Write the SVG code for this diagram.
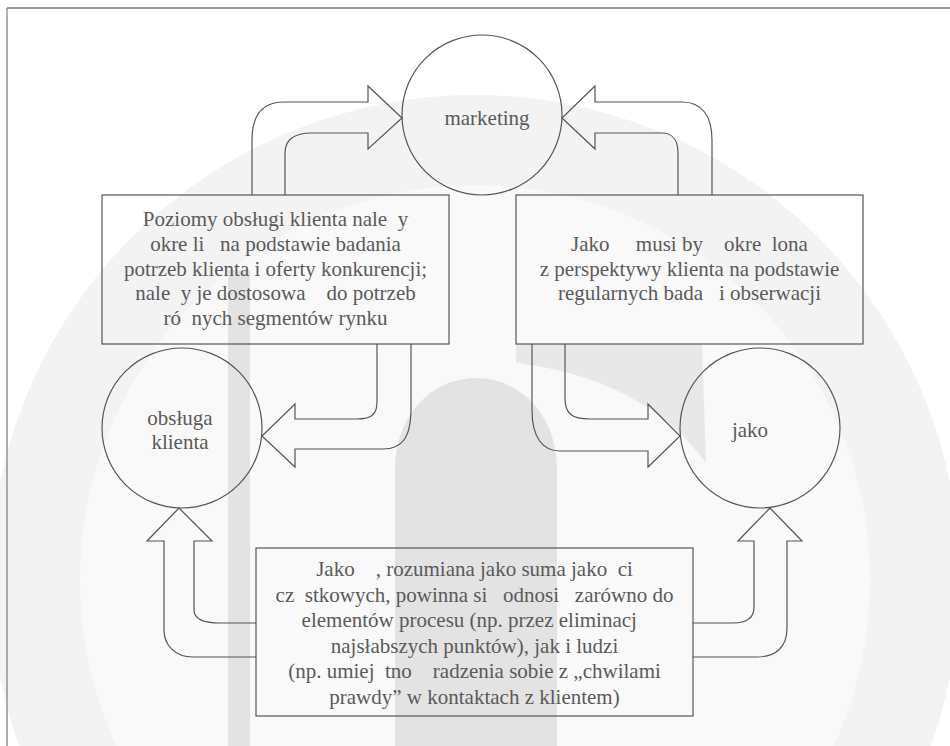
<svg xmlns="http://www.w3.org/2000/svg" width="950" height="746" viewBox="0 0 950 746">
  <style>
    .shape { fill: none; stroke: #555555; stroke-width: 1.2; }
    .conn { fill: none; stroke: #555555; stroke-width: 1.2; stroke-linejoin: miter; }
    .lbl { font-family: 'Liberation Serif', 'DejaVu Serif', serif; font-size: 21px; fill: #5a5a5a; text-anchor: middle; white-space: pre; }
    .wm1 { fill: #f3f3f3; }
    .wm2 { fill: #f9f9f9; }
    .wm3 { fill: #e3e3e3; }
    .wm4 { fill: #e8e8e8; }
  </style>
  <rect x="0" y="0" width="950" height="746" fill="#ffffff"/>
  <g id="watermark">
    <circle class="wm1" cx="475" cy="580" r="485"/>
    <circle class="wm2" cx="475" cy="580" r="395"/>
    <rect class="wm3" x="228" y="270" width="22" height="476"/>
    <path class="wm3" d="M395,746 V470 C395,415 432,378 476,378 C520,378 557,415 557,470 V746 Z"/>
    <path class="wm4" d="M516,344 H702 L706,463 C665,405 595,372 516,363 Z"/>
  </g>
  <g id="frame">
    <line x1="7" y1="8" x2="950" y2="8" stroke="#333333" stroke-width="1.2"/>
    <line x1="7" y1="8" x2="7" y2="746" stroke="#7a7a7a" stroke-width="1.2"/>
  </g>
  <g id="connectors">
    <path class="conn" d="M252,195 V140 C252,116 262,102 284,102 H368 V86 L402,118 L368,149 V133 H312 C294,133 285,140 285,153 V195"/>
    <path class="conn" d="M712,195 V140 C712,116 702,102 682,102 H595 V86 L562,118 L595,149 V133 H662 C672,133 678,140 678,153 V195"/>
    <path class="conn" d="M377,344 V402 C377,414 372,419 357,419 H295 V404 L262,436 L295,467 V449 H383 C402,449 411,438 411,408 V344"/>
    <path class="conn" d="M532,344 V410 C532,438 543,451 560,451 H648 V467 L680,436 L648,404 V419 H590 C572,419 565,414 565,398 V344"/>
    <path class="conn" d="M256,657 H193 C175,657 164,645 164,630 V541 H147 L179,508 L212,541 H194 V610 C194,619 202,623 220,623 H256"/>
    <path class="conn" d="M693,623 H733 C748,623 754,617 754,607 V541 H738 L770,508 L802,541 H787 V628 C787,648 775,657 757,657 H693"/>
  </g>
  <g font-family="Liberation Serif, serif">
  <g id="marketing">
    <circle class="shape" cx="482" cy="115" r="80"/>
    <text class="lbl" x="487" y="125">marketing</text>
  </g>
  <g id="obsluga">
    <circle class="shape" cx="182" cy="428" r="80"/>
    <text class="lbl" x="180" y="425">obsługa</text>
    <text class="lbl" x="180" y="449">klienta</text>
  </g>
  <g id="jakosc">
    <circle class="shape" cx="760" cy="428" r="80"/>
    <text class="lbl" x="750" y="437">jako</text>
  </g>
  <g id="box-poziomy">
    <rect class="shape" x="102" y="195" width="347" height="149"/>
    <text class="lbl" xml:space="preserve" x="275.5" y="226">Poziomy obsługi klienta nale  y</text>
    <text class="lbl" xml:space="preserve" x="275.5" y="251">okre li   na podstawie badania</text>
    <text class="lbl" xml:space="preserve" x="275.5" y="276">potrzeb klienta i oferty konkurencji;</text>
    <text class="lbl" xml:space="preserve" x="275.5" y="300">nale  y je dostosowa    do potrzeb</text>
    <text class="lbl" xml:space="preserve" x="275.5" y="325">ró  nych segmentów rynku</text>
  </g>
  <g id="box-jakosc">
    <rect class="shape" x="516" y="195" width="347" height="149"/>
    <text class="lbl" xml:space="preserve" x="689.5" y="251">Jako     musi by    okre  lona</text>
    <text class="lbl" xml:space="preserve" x="689.5" y="276">z perspektywy klienta na podstawie</text>
    <text class="lbl" xml:space="preserve" x="689.5" y="300">regularnych bada   i obserwacji</text>
  </g>
  <g id="box-suma">
    <rect class="shape" x="256" y="548" width="437" height="168"/>
    <text class="lbl" xml:space="preserve" x="474.5" y="576">Jako    , rozumiana jako suma jako  ci</text>
    <text class="lbl" xml:space="preserve" x="474.5" y="601.5">cz  stkowych, powinna si   odnosi   zarówno do</text>
    <text class="lbl" xml:space="preserve" x="474.5" y="627">elementów procesu (np. przez eliminacj  </text>
    <text class="lbl" xml:space="preserve" x="474.5" y="652.5">najsłabszych punktów), jak i ludzi</text>
    <text class="lbl" xml:space="preserve" x="474.5" y="678">(np. umiej  tno    radzenia sobie z „chwilami</text>
    <text class="lbl" xml:space="preserve" x="474.5" y="703.5">prawdy” w kontaktach z klientem)</text>
  </g>
  </g>
</svg>
